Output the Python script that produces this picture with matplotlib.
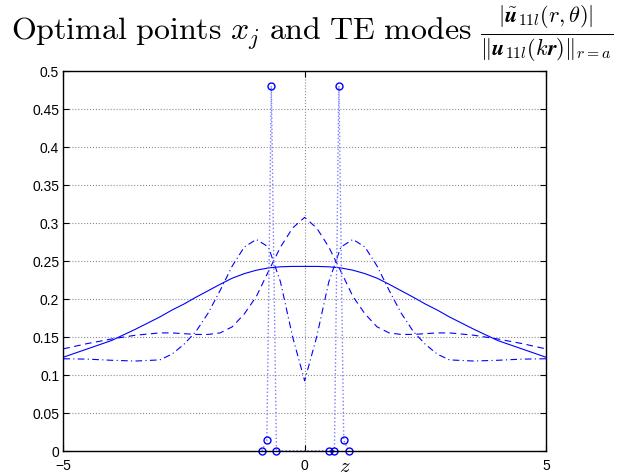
import numpy as np
import matplotlib.pyplot as plt

plt.rcParams['mathtext.fontset'] = 'cm'
plt.rcParams['font.family'] = ['Liberation Sans', 'DejaVu Sans']

# valores
z_half = [-5, -4.5, -4, -3.5, -3, -2.75, -2.5, -2.25, -2, -1.75, -1.5, -1.25, -1, -0.75, -0.5, -0.25, 0]
modo1_half = [0.123, 0.134, 0.145, 0.160, 0.176, 0.185, 0.193, 0.202, 0.2105, 0.219, 0.227, 0.233,
              0.2375, 0.2405, 0.242, 0.2425, 0.2425]
modo2_half = [0.134, 0.141, 0.147, 0.152, 0.155, 0.155, 0.154, 0.153, 0.153, 0.155, 0.163, 0.180,
              0.203, 0.236, 0.268, 0.293, 0.307]
modo3_half = [0.121, 0.1205, 0.119, 0.118, 0.1195, 0.127, 0.140, 0.157, 0.181, 0.211, 0.243, 0.268,
              0.278, 0.268, 0.222, 0.150, 0.092]

# curvas simetricas en z
z = np.array(z_half + [-v for v in z_half[-2::-1]])
modo1 = np.array(modo1_half + modo1_half[-2::-1])
modo2 = np.array(modo2_half + modo2_half[-2::-1])
modo3 = np.array(modo3_half + modo3_half[-2::-1])

# puntos optimos x_j
xj = [-0.886, -0.783, -0.69, -0.584, 0.513, 0.617, 0.71, 0.81, 0.915]
wj = [0, 0.0136, 0.48, 0, 0, 0, 0.48, 0.0136, 0]

fig = plt.figure(figsize=(6.28, 4.77), dpi=100)
ax = fig.add_axes([0.1008, 0.053, 0.7686, 0.7967])

ax.plot(z, modo1, '-', color='blue', lw=0.8)
ax.plot(z, modo2, '--', color='blue', lw=0.8, dashes=(6, 4))
ax.plot(z, modo3, '-.', color='blue', lw=0.8, dashes=(6, 3, 1, 3))
ax.plot(xj, wj, ':', color='#7a7aff', lw=1.0)
ax.plot(xj, wj, 'o', mfc='none', mec='blue', ms=5, mew=1.0, clip_on=False)

ax.set_xlim(-5, 5)
ax.set_ylim(0, 0.5)
ax.set_xticks([-5, 0, 5])
ax.set_yticks(np.arange(0, 0.501, 0.05))
ax.set_yticklabels(['0', '0.05', '0.1', '0.15', '0.2', '0.25', '0.3', '0.35', '0.4', '0.45', '0.5'])
ax.tick_params(direction='in', length=4, width=0.8, labelsize=10, top=True, right=True)
ax.tick_params(axis='x', pad=5)
ax.tick_params(axis='y', pad=3)
ax.grid(True, linestyle=':', color='0.55', lw=0.8)
for s in ax.spines.values():
    s.set_linewidth(1.0)

ax.text(0.5836, -0.04, r'$z$', transform=ax.transAxes, fontsize=15, ha='center', va='center')

fig.text(0.497, 0.93,
         r'$\mathrm{Optimal\ points}\ x_j\ \mathrm{and\ TE\ modes}\ '
         r'\frac{|\tilde{\boldsymbol{u}}_{11l}(r,\theta)|}{\|\boldsymbol{u}_{11l}(k\boldsymbol{r})\|_{r=a}}$',
         fontsize=23, ha='center', va='center')

fig.savefig('out.png', dpi=100)
